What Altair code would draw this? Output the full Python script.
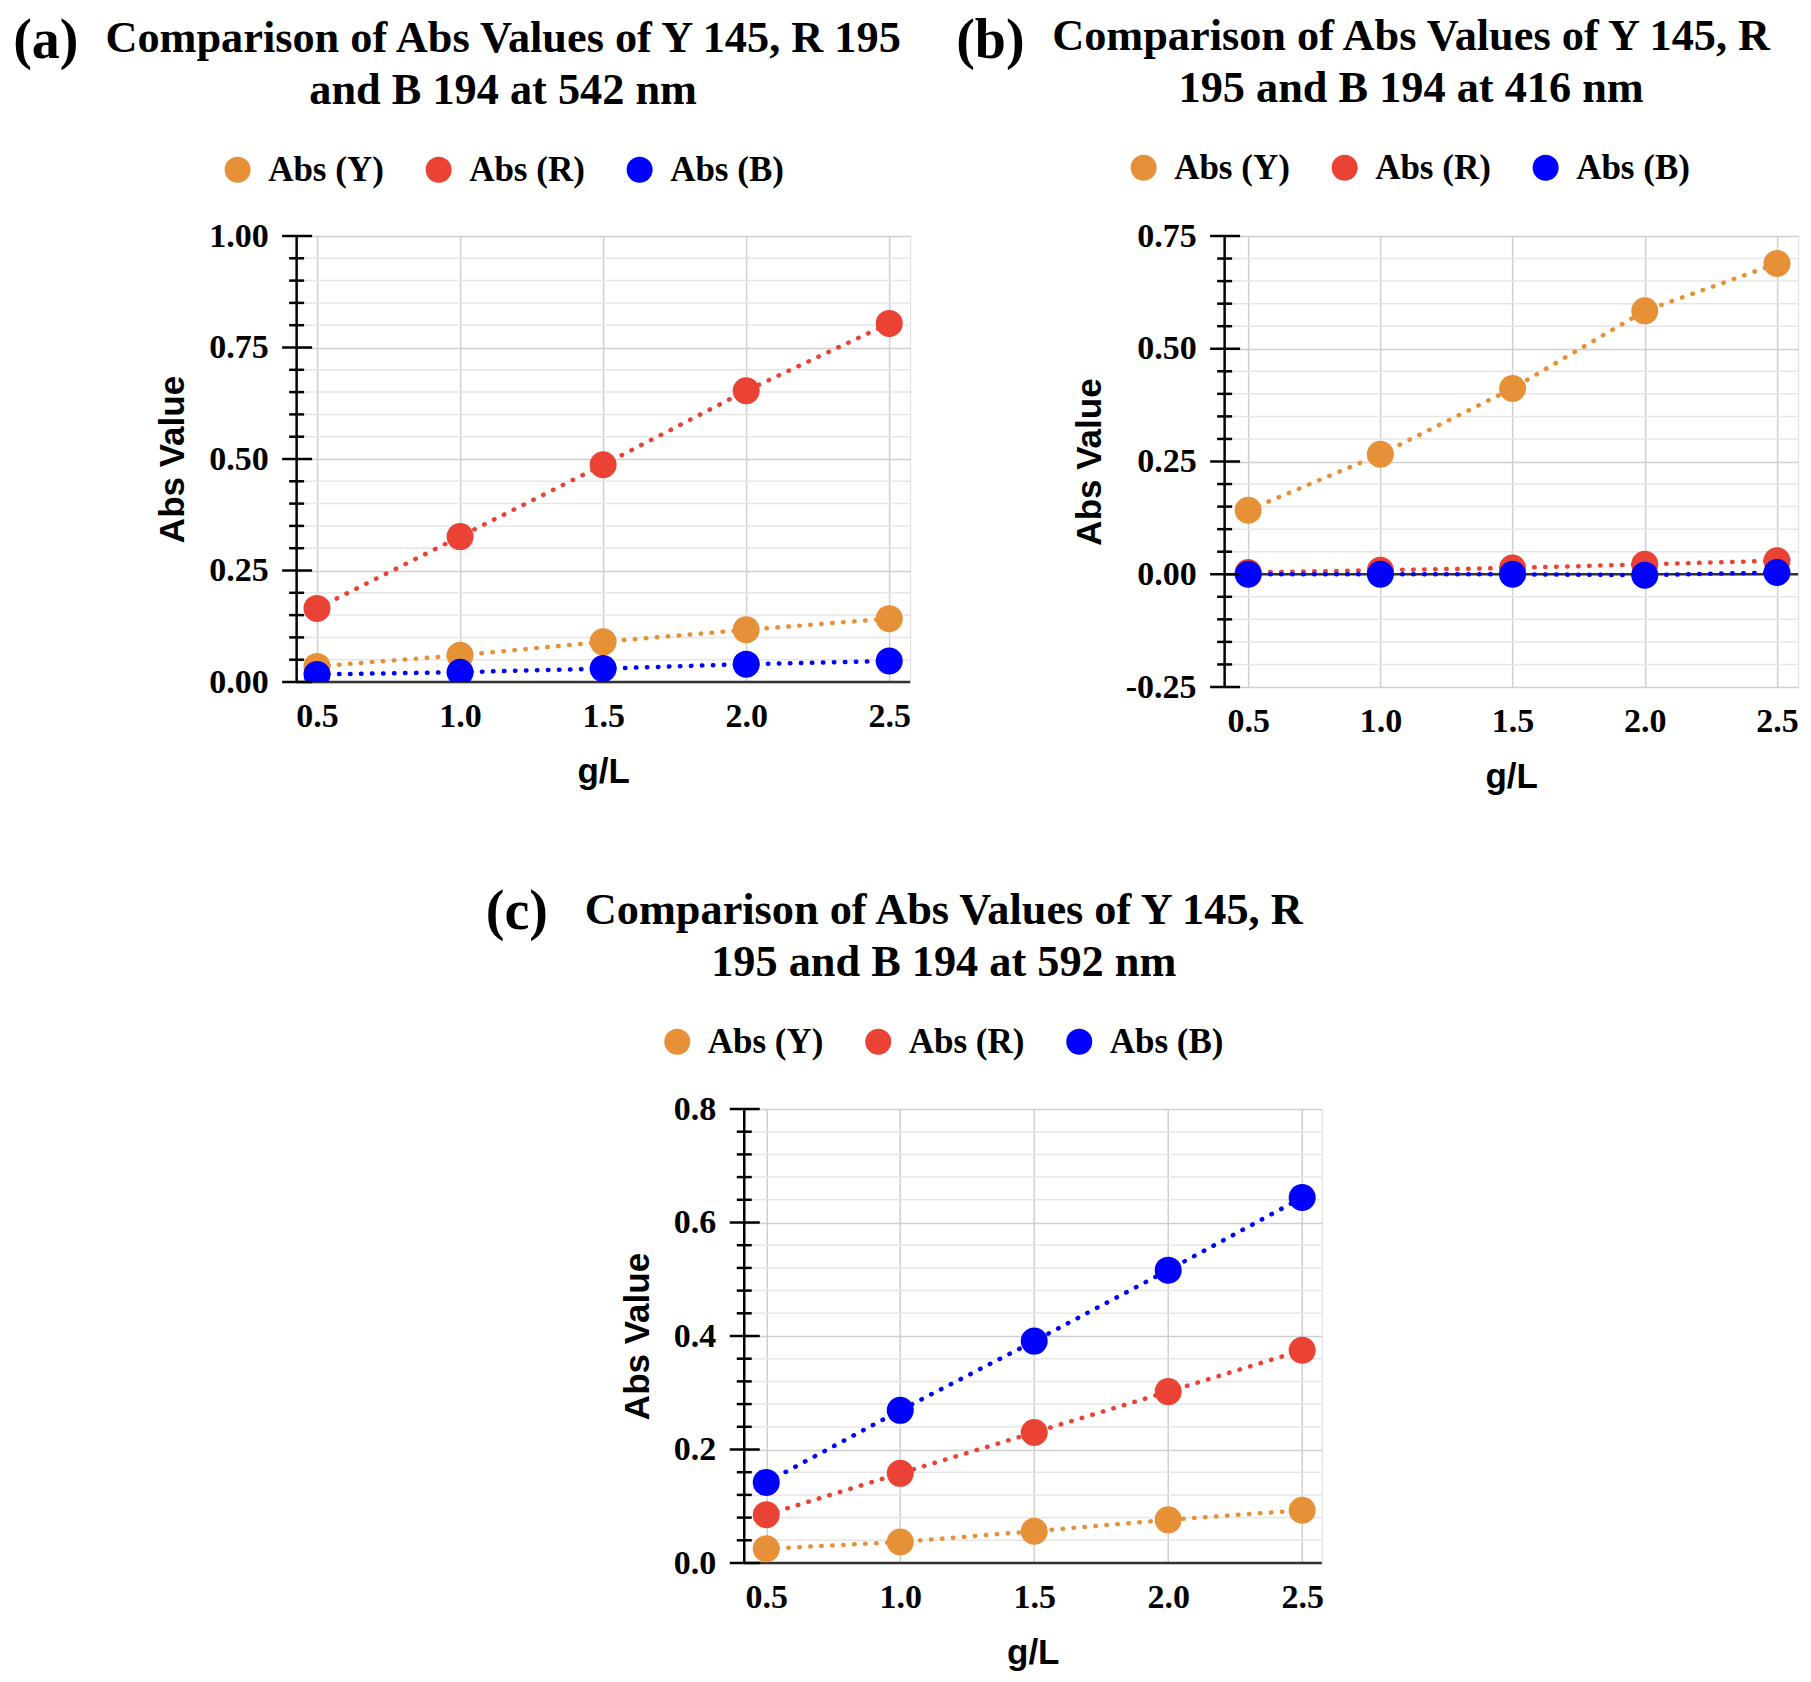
import altair as alt
import pandas as pd

# ---------------- data ----------------
conc = [0.5, 1.0, 1.5, 2.0, 2.5]
series = ["Abs (Y)", "Abs (R)", "Abs (B)"]
colors = ["#e69138", "#ea4335", "#0000ff"]

# (a) 542 nm
a_Y = [0.035, 0.060, 0.090, 0.117, 0.142]
a_R = [0.165, 0.326, 0.487, 0.653, 0.804]
a_B = [0.017, 0.022, 0.030, 0.040, 0.047]
a_major = [0.0, 0.25, 0.50, 0.75, 1.00]

# (b) 416 nm
b_Y = [0.142, 0.266, 0.412, 0.584, 0.689]
b_R = [0.004, 0.009, 0.014, 0.022, 0.030]
b_B = [0.000, 0.000, 0.000, -0.002, 0.004]
b_major = [-0.25, 0.0, 0.25, 0.50, 0.75]

# (c) 592 nm
c_Y = [0.025, 0.037, 0.056, 0.076, 0.093]
c_R = [0.085, 0.158, 0.230, 0.302, 0.375]
c_B = [0.142, 0.269, 0.391, 0.516, 0.644]
c_major = [0.0, 0.2, 0.4, 0.6, 0.8]

a_minor = [round(i * 0.05, 2) for i in range(0, 21) if i % 5]
b_minor = [round(-0.25 + i * 0.05, 2) for i in range(0, 21) if i % 5]
c_minor = [round(i * 0.04, 2) for i in range(0, 21) if i % 5]

a_title = ["Comparison of Abs Values of Y 145, R 195", "and B 194 at 542 nm"]
b_title = ["Comparison of Abs Values of Y 145, R", "195 and B 194 at 416 nm"]
c_title = ["Comparison of Abs Values of Y 145, R", "195 and B 194 at 592 nm"]

SERIF = "Liberation Serif"
SANS = "Liberation Sans"


def panel(letter, title, Y, R, B, W, H, xdom, ydom, major, minor, yfmt,
          legxy, titlex, ty1, ty2, letx, lety, right_ext=0):
    df = pd.DataFrame({
        "g/L": conc * 3,
        "Abs Value": Y + R + B,
        "series": [s for s in series for _ in conc],
    })
    xsc = alt.Scale(domain=xdom, nice=False, zero=False)
    ysc = alt.Scale(domain=ydom, nice=False, zero=False)
    xaxis = alt.Axis(values=conc, format=".1f", title="g/L", grid=True,
                     gridColor="#cfcfcf", gridWidth=1.5, domain=False, ticks=False,
                     labelFont=SERIF, labelFontWeight="bold", labelFontSize=34,
                     labelColor="black", labelPadding=17,
                     titleFont=SANS, titleFontWeight="bold", titleFontSize=35,
                     titleColor="black", titlePadding=21)
    yaxis = alt.Axis(values=major, format=yfmt, title="Abs Value", grid=True,
                     gridColor="#cfcfcf", gridWidth=1.5, domain=True,
                     domainColor="black", domainWidth=2.5, ticks=False,
                     labelFont=SERIF, labelFontWeight="bold", labelFontSize=34,
                     labelColor="black", labelPadding=28,
                     labelExpr="replace(datum.label, '\u2212', '-')",
                     titleFont=SANS, titleFontWeight="bold", titleFontSize=35,
                     titleColor="black", titlePadding=18)
    color_leg = alt.Color(
        "series:N", sort=series,
        scale=alt.Scale(domain=series, range=colors),
        legend=alt.Legend(title=None, orient="none", direction="horizontal",
                          legendX=legxy[0] - 18, legendY=legxy[1] - 17,
                          symbolType="circle", symbolSize=676,
                          symbolStrokeWidth=0, symbolOpacity=1,
                          labelFont=SERIF, labelFontWeight="bold",
                          labelFontSize=35, labelColor="black",
                          labelOffset=13, columnPadding=37, padding=0,
                          labelLimit=0))

    ydf_minor = pd.DataFrame({"v": minor})
    ydf_major = pd.DataFrame({"v": major})
    ydf_zero = pd.DataFrame({"v": [0.0]})

    layers = []
    layers.append(alt.Chart(ydf_minor).mark_rule(color="#e6e6e6", strokeWidth=1.5).encode(
        y=alt.Y("v:Q", scale=ysc, axis=yaxis), x=alt.value(0), x2=alt.value(W)))
    layers.append(alt.Chart(ydf_zero).mark_rule(color="#333333", strokeWidth=2.5).encode(
        y=alt.Y("v:Q", scale=ysc, axis=yaxis), x=alt.value(0), x2=alt.value(W)))
    for s, col in zip(series, colors):
        layers.append(alt.Chart(df).transform_filter(alt.datum.series == s).mark_line(
            color=col, strokeDash=[0.5, 10.5], strokeCap="round", strokeWidth=4.5,
            clip=True).encode(
            x=alt.X("g/L:Q", scale=xsc, axis=xaxis),
            y=alt.Y("Abs Value:Q", scale=ysc, axis=yaxis)))
    layers.append(alt.Chart(df).mark_point(filled=True, size=729, opacity=1, clip=True).encode(
        x=alt.X("g/L:Q", scale=xsc, axis=xaxis),
        y=alt.Y("Abs Value:Q", scale=ysc, axis=yaxis),
        color=color_leg))
    layers.append(alt.Chart(ydf_major).mark_rule(color="black", strokeWidth=2.5).encode(
        y=alt.Y("v:Q", scale=ysc, axis=yaxis), x=alt.value(-14), x2=alt.value(16)))
    layers.append(alt.Chart(ydf_minor).mark_rule(color="black", strokeWidth=2.5).encode(
        y=alt.Y("v:Q", scale=ysc, axis=yaxis), x=alt.value(-7), x2=alt.value(8)))

    one = pd.DataFrame({"t": [letter]})
    layers.append(alt.Chart(one).mark_text(
        font=SERIF, fontWeight="bold", fontSize=56, align="left",
        baseline="middle", color="black").encode(
        text="t:N", x=alt.value(letx), y=alt.value(lety)))
    for line, ty in zip(title, [ty1, ty2]):
        layers.append(alt.Chart(pd.DataFrame({"t": [line]})).mark_text(
            font=SERIF, fontWeight="bold", fontSize=44.3, align="center",
            baseline="middle", color="black").encode(
            text="t:N", x=alt.value(titlex), y=alt.value(ty)))
    # invisible spacers that fix the outer extent of the panel
    layers.append(alt.Chart(one).mark_rule(opacity=0).encode(
        x=alt.value(0), x2=alt.value(10), y=alt.value(-224)))
    if right_ext:
        layers.append(alt.Chart(one).mark_rule(opacity=0).encode(
            x=alt.value(W), x2=alt.value(W + right_ext), y=alt.value(0)))

    return alt.layer(*layers).properties(width=W, height=H)


pa = panel("(a)", a_title, a_Y, a_R, a_B, 614, 446, [0.427, 2.573], [0, 1.0],
           a_major, a_minor, ".2f", (-58, -67), 207, -197, -145, -283, -195)
pb = panel("(b)", b_title, b_Y, b_R, b_B, 574, 451, [0.409, 2.58], [-0.25, 0.75],
           b_major, b_minor, ".2f", (-80, -69), 187, -199, -147, -268, -195)
pc = panel("(c)", c_title, c_Y, c_R, c_B, 578, 454, [0.416, 2.573], [0, 0.8],
           c_major, c_minor, ".1f", (-66, -68), 200, -198, -146, -258, -197,
           right_ext=30)

row1 = alt.hconcat(pa, pb, spacing=314, bounds="flush").resolve_scale(color="independent")
chart = alt.vconcat(row1, pc, spacing=88, center=True).resolve_scale(
    color="independent").properties(
    padding={"left": 4, "top": 3, "right": 0, "bottom": 0}
).configure_view(stroke=None).configure(background="white")

chart.save("out.html", embed_options={"renderer": "svg", "actions": False})
